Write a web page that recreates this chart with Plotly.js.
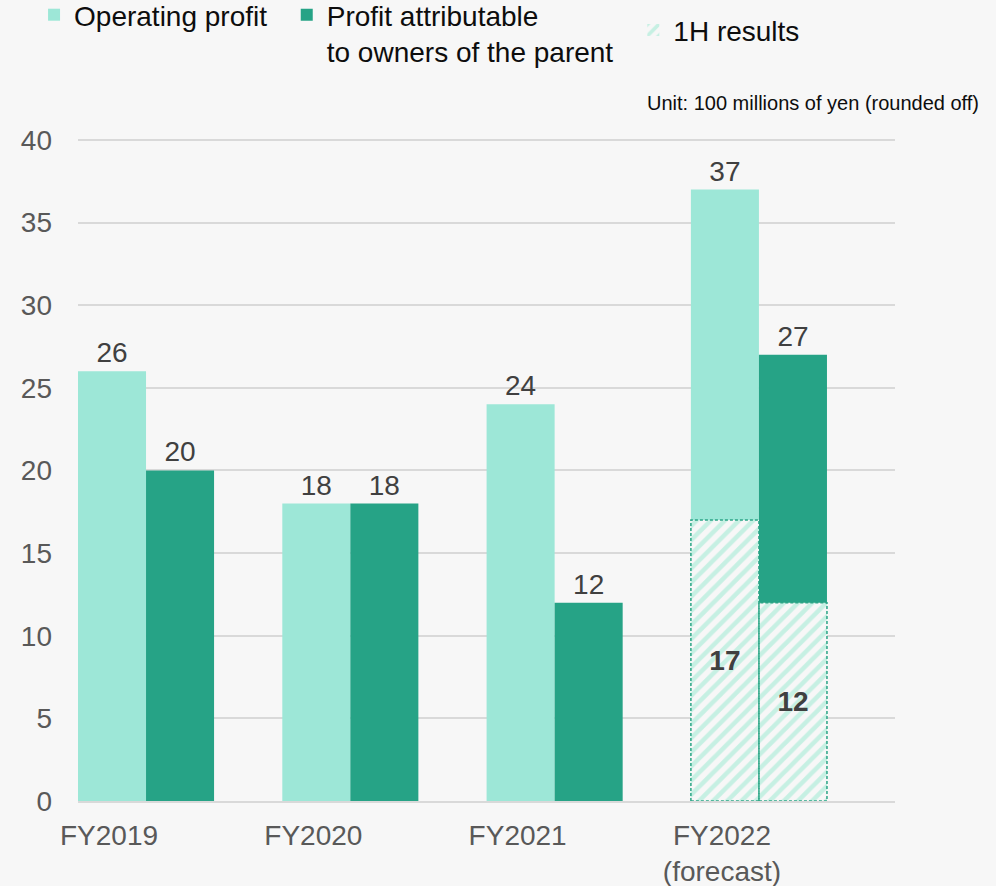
<!DOCTYPE html>
<html>
<head>
<meta charset="utf-8">
<script src="https://cdn.plot.ly/plotly-3.0.1.min.js"></script>
<style>
  html, body { margin: 0; padding: 0; background: #f7f7f7; }
  #chart { width: 996px; height: 886px; }
</style>
</head>
<body>
<div id="chart"></div>
<script>
// values in 100 millions of yen
var years = ["FY2019", "FY2020", "FY2021", "FY2022<br>(forecast)"];
var operatingProfit = [26, 18, 24, 37];
var ownersProfit = [20, 18, 12, 27];
// first-half results, only for the forecast year
var halfOperating = [null, null, null, 17];
var halfOwners = [null, null, null, 12];

var lightGreen = "#9de7d7";
var darkGreen = "#26a386";
var hatchGreen = "#c6f0e3";
var bg = "#f7f7f7";
var gap = 0.334;

var labelFont = {family: "Liberation Sans, Arial", size: 28, color: "#404040"};

var traceOp = {
    x: years, y: operatingProfit, type: "bar", name: "Operating profit",
    offsetgroup: "op", marker: {color: lightGreen}, legend: "legend",
    text: operatingProfit, textposition: "outside", textfont: labelFont,
    cliponaxis: false, hoverinfo: "y"
};
var traceOwners = {
    x: years, y: ownersProfit, type: "bar", name: "Profit attributable<br>to owners of the parent",
    offsetgroup: "own", marker: {color: darkGreen}, legend: "legend2",
    text: ownersProfit, textposition: "outside", textfont: labelFont,
    cliponaxis: false, hoverinfo: "y"
};
// hatched 1H parts laid over the bottom of the FY2022 bars
var hatch = {shape: "/", fgcolor: hatchGreen, bgcolor: bg, size: 10, solidity: 0.45, fillmode: "replace"};
var traceHalfOp = {
    x: years, y: halfOperating, type: "bar", name: "1H results", legend: "legend3",
    offsetgroup: "op", marker: {color: bg, pattern: hatch, line: {width: 0}},
    texttemplate: "<b>%{y}</b>", textposition: "inside", insidetextanchor: "middle",
    textfont: labelFont, hoverinfo: "y"
};
var traceHalfOwners = {
    x: years, y: halfOwners, type: "bar", name: "1H results", showlegend: false,
    offsetgroup: "own", marker: {color: bg, pattern: hatch, line: {width: 0}},
    texttemplate: "<b>%{y}</b>", textposition: "inside", insidetextanchor: "middle",
    textfont: labelFont, hoverinfo: "y"
};

// dashed outlines round the hatched parts, from the same values
var barW = (1 - gap) / 2;
var shapes = [];
[halfOperating, halfOwners].forEach(function (vals, k) {
    vals.forEach(function (v, i) {
        if (v === null) return;
        shapes.push({
            type: "rect", xref: "x", yref: "y",
            x0: i - barW + k * barW, x1: i + k * barW, y0: 0, y1: v,
            line: {color: "#2ba586", width: 1.5, dash: "3px,2px"}
        });
    });
});

function legendAt(x, y) {
    return {
        orientation: "h", x: x, xanchor: "left", y: y, yanchor: "top",
        valign: "top", font: {size: 28, color: "#0d0d0d"}, bgcolor: "rgba(0,0,0,0)"
    };
}

var layout = {
    width: 996, height: 886,
    paper_bgcolor: bg, plot_bgcolor: bg,
    font: {family: "Liberation Sans, Arial", size: 28, color: "#595959"},
    margin: {l: 78, r: 101, t: 135, b: 85, autoexpand: false},
    barmode: "group", bargap: gap, bargroupgap: 0,
    xaxis: {
        type: "category", range: [-0.333, 3.666], showgrid: false,
        showline: true, linecolor: "#d9d9d9", linewidth: 2,
        ticks: "", ticklabelshift: -37, ticklabelstandoff: 8,
        tickfont: {size: 28, color: "#595959"}, fixedrange: true
    },
    yaxis: {
        range: [0, 40.3], dtick: 5, showgrid: true, gridcolor: "#d9d9d9", gridwidth: 1.5,
        zeroline: false, ticks: "", ticklabelstandoff: 25,
        tickfont: {size: 28, color: "#595959"}, fixedrange: true
    },
    legend: legendAt(-0.0538, 1.2177),
    legend2: legendAt(0.2555, 1.2177),
    legend3: legendAt(0.6797, 1.1949),
    annotations: [{
        text: "Unit: 100 millions of yen (rounded off)", xref: "paper", yref: "paper",
        x: 1.105, y: 1.048, xanchor: "right", yanchor: "middle", showarrow: false,
        font: {size: 20, color: "#0d0d0d"}
    }],
    shapes: shapes,
    showlegend: true
};

Plotly.newPlot("chart", [traceOp, traceOwners, traceHalfOp, traceHalfOwners], layout, {displayModeBar: false});
</script>
</body>
</html>
